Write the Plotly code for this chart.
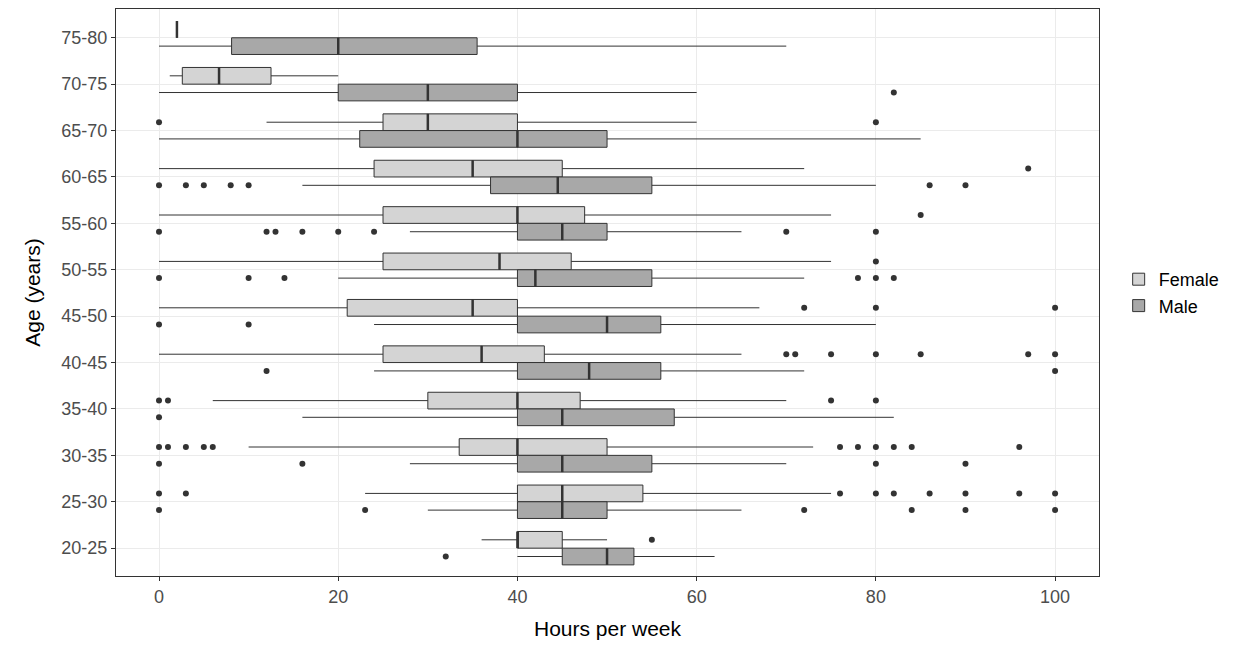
import plotly.graph_objects as go

ages = ['20-25', '25-30', '30-35', '35-40', '40-45', '45-50', '50-55', '55-60', '60-65', '65-70', '70-75', '75-80']

# female stats: lower whisker, q1, median, q3, upper whisker
f_lo = [36, 23, 10, 6, 0, 0, 0, 0, 0, 12, 1.2, 2]
f_q1 = [40, 40, 33.5, 30, 25, 21, 25, 25, 24, 25, 2.6, 2]
f_med = [40, 45, 40, 40, 36, 35, 38, 40, 35, 30, 6.7, 2]
f_q3 = [45, 54, 50, 47, 43, 40, 46, 47.5, 45, 40, 12.5, 2]
f_hi = [50, 75, 73, 70, 65, 67, 75, 75, 72, 60, 20, 2]
f_out = [[55], [0, 3, 76, 80, 82, 86, 90, 96, 100], [0, 1, 3, 5, 6, 76, 78, 80, 82, 84, 96],
         [0, 1, 75, 80], [70, 71, 75, 80, 85, 97, 100], [72, 80, 100], [80], [85], [97], [0, 80], [], []]

m_lo = [40, 30, 28, 16, 24, 24, 20, 28, 16, 0, 0, 0]
m_q1 = [45, 40, 40, 40, 40, 40, 40, 40, 37, 22.4, 20, 8.1]
m_med = [50, 45, 45, 45, 48, 50, 42, 45, 44.5, 40, 30, 20]
m_q3 = [53, 50, 55, 57.5, 56, 56, 55, 50, 55, 50, 40, 35.5]
m_hi = [62, 65, 70, 82, 72, 80, 72, 65, 80, 85, 60, 70]
m_out = [[32], [0, 23, 72, 84, 90, 100], [0, 16, 80, 90], [0], [12, 100], [0, 10],
         [0, 10, 14, 78, 80, 82], [0, 12, 13, 16, 20, 24, 70, 80], [0, 3, 5, 8, 10, 86, 90], [], [82], []]

OFF = 0.18
W = 0.36
fig = go.Figure()

groups = [('Female', '#d4d4d4', OFF, f_lo, f_q1, f_med, f_q3, f_hi, f_out),
          ('Male', '#a8a8a8', -OFF, m_lo, m_q1, m_med, m_q3, m_hi, m_out)]

for name, color, off, lo, q1, med, q3, hi, out in groups:
    ys = [i + off for i in range(len(ages))]
    fig.add_trace(go.Box(
        y=ys, q1=q1, median=med, q3=q3, lowerfence=lo, upperfence=hi,
        orientation='h', name=name, fillcolor=color, width=W,
        line=dict(color='#333333', width=1), whiskerwidth=0,
        boxpoints=False, hoverinfo='skip'))
    # thick median line
    mx, my = [], []
    for y, m in zip(ys, med):
        mx += [m, m, None]
        my += [y - W / 2, y + W / 2, None]
    fig.add_trace(go.Scatter(x=mx, y=my, mode='lines', line=dict(color='#333333', width=2.5),
                             showlegend=False, hoverinfo='skip'))
    ox, oy = [], []
    for y, pts in zip(ys, out):
        ox += pts
        oy += [y] * len(pts)
    fig.add_trace(go.Scatter(x=ox, y=oy, mode='markers', marker=dict(color='#333333', size=6),
                             showlegend=False, hoverinfo='skip'))

fig.update_layout(
    width=1246, height=645, plot_bgcolor='white', paper_bgcolor='white',
    margin=dict(l=108, r=155, t=1, b=77),
    font=dict(family='Liberation Sans, Arial', size=18, color='black'),
    legend=dict(x=1.02, y=0.5, yanchor='middle', font=dict(size=18), traceorder='normal'),
    xaxis=dict(title=dict(text='Hours per week', font=dict(size=21)), range=[-4.8, 104.9],
               tickvals=[0, 20, 40, 60, 80, 100], gridcolor='#ebebeb', zeroline=False,
               showline=True, linecolor='#333333', mirror=True, ticks='outside',
               ticklen=4, tickcolor='#333333', tickfont=dict(color='#4d4d4d')),
    yaxis=dict(title=dict(text='Age (years)', font=dict(size=21)), range=[-0.6, 11.62],
               tickvals=list(range(len(ages))), ticktext=ages, gridcolor='#ebebeb', zeroline=False,
               showline=True, linecolor='#333333', mirror=True, ticks='outside',
               ticklen=4, tickcolor='#333333', tickfont=dict(color='#4d4d4d')),
)

fig.write_html('out.html')
